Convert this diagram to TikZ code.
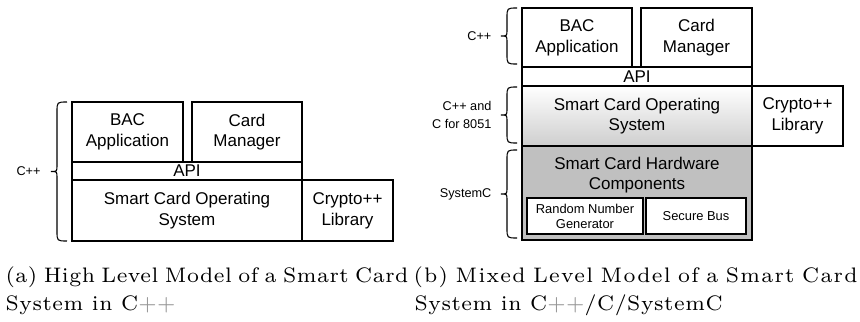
\documentclass[tikz,border=0pt]{standalone}
\usepackage{fontspec}
\newfontfamily\boxfont{Liberation Sans}
\newfontfamily\capfont{lmroman7-regular.otf}[LetterSpace=2.5]
\newfontfamily\capwidefont{lmroman7-regular.otf}[LetterSpace=6]
\definecolor{hwgray}{RGB}{192,192,192}
\definecolor{osgray}{RGB}{206,206,206}
\definecolor{plusgray}{RGB}{150,150,150}
\newcommand{\cpp}{C\textcolor{plusgray}{++}}
% left curly brace: #1 tip name, #2 x of the hooked ends, #3 top y, #4 bottom y
\newcommand{\curlybrace}[4]{%
  \draw[curl] (#2,#3) .. controls (#2-10,#3) .. (#2-10,#3+10)
    -- (#2-10,{(#3+#4)/2-6}) .. controls (#2-10,{(#3+#4)/2}) .. (#2-16,{(#3+#4)/2}) coordinate (#1)
    .. controls (#2-10,{(#3+#4)/2}) .. (#2-10,{(#3+#4)/2+6})
    -- (#2-10,#4-10) .. controls (#2-10,#4) .. (#2,#4);}
\begin{document}
\begin{tikzpicture}[x=0.33333pt,y=-0.33333pt,
  % a box given by its left, top, right and bottom edges
  span/.style n args={4}{minimum width={(#3-#1)*0.33333pt},
    minimum height={(#4-#2)*0.33333pt}, at={({(#1+#3)/2},{(#2+#4)/2})}},
  layer/.style={draw=black, line width=0.36pt, inner sep=0pt, align=center,
    font=\boxfont\fontsize{5.67}{6.9}\selectfont},
  boxtext/.style={inner sep=0pt, align=center, font=\boxfont\fontsize{5.67}{6.9}\selectfont},
  part/.style={layer, fill=white, font=\boxfont\fontsize{4.3}{5}\selectfont},
  lang/.style={anchor=east, align=right, inner sep=0pt,
    font=\boxfont\fontsize{4.23}{6.1}\selectfont},
  curl/.style={line width=0.36pt},
  caption/.style={anchor=base west, inner sep=0pt, font=\capfont\fontsize{7}{9}\selectfont}]
\useasboundingbox (0,0) rectangle (860,322);

% ---- (a) high level model ----
\node[layer, span={72}{102}{183}{162}] (bacA) {BAC\\Application};
\node[layer, span={192}{102}{302}{162}] (cmA) {Card\\Manager};
\node[layer, span={72}{162}{302}{180}] (apiA) {API};
\node[layer, span={72}{180}{302}{241}] (osA) {Smart Card Operating\\System};
\node[layer, span={302}{180}{393}{241}] (cryA) {Crypto++\\Library};
\curlybrace{tipA}{67}{102}{241}
\node[lang] (langA) at ([xshift=-3.3pt]tipA) {C++};

% ---- (b) mixed level model ----
\node[layer, span={522}{8}{632}{67}] (bacB) {BAC\\Application};
\node[layer, span={641}{8}{752}{67}] (cmB) {Card\\Manager};
\node[layer, span={522}{67}{752}{86}] (apiB) {API};
\node[layer, top color=white, bottom color=osgray, span={522}{86}{752}{146}] (osB) {Smart Card Operating\\System};
\node[layer, span={752}{86}{843}{146}] (cryB) {Crypto++\\Library};
\node[layer, fill=hwgray, span={522}{146}{752}{240}] (hwB) {};
\node[boxtext] (hwtitle) at (637,175) {Smart Card Hardware\\Components};
\node[part, span={527}{198}{643}{234}] (rngB) {Random Number\\Generator};
\node[part, span={646}{198}{746}{234}] (busB) {Secure Bus};
\curlybrace{tipB1}{517}{8}{64}
\curlybrace{tipB2}{517}{87}{143}
\curlybrace{tipB3}{517}{150}{238}
\node[lang] (langB1) at ([xshift=-3pt]tipB1) {C++};
\node[lang] (langB2) at ([xshift=-3pt]tipB2) {C++ and\\C for 8051};
\node[lang] (langB3) at ([xshift=-3pt]tipB3) {SystemC};

% ---- sub-captions ----
\node[caption] (capA1) at (5,282) {\makebox[134.3pt][s]{(a) High Level Model of a Smart Card}};
\node[caption] (capA2) at (5,310) {System in \cpp};
\node[caption] (capB1) at (413,282) {\capwidefont\makebox[148pt][s]{(b) Mixed Level Model of a Smart Card}};
\node[caption] (capB2) at (414,310) {System in \cpp/C/SystemC};
\end{tikzpicture}
\end{document}
